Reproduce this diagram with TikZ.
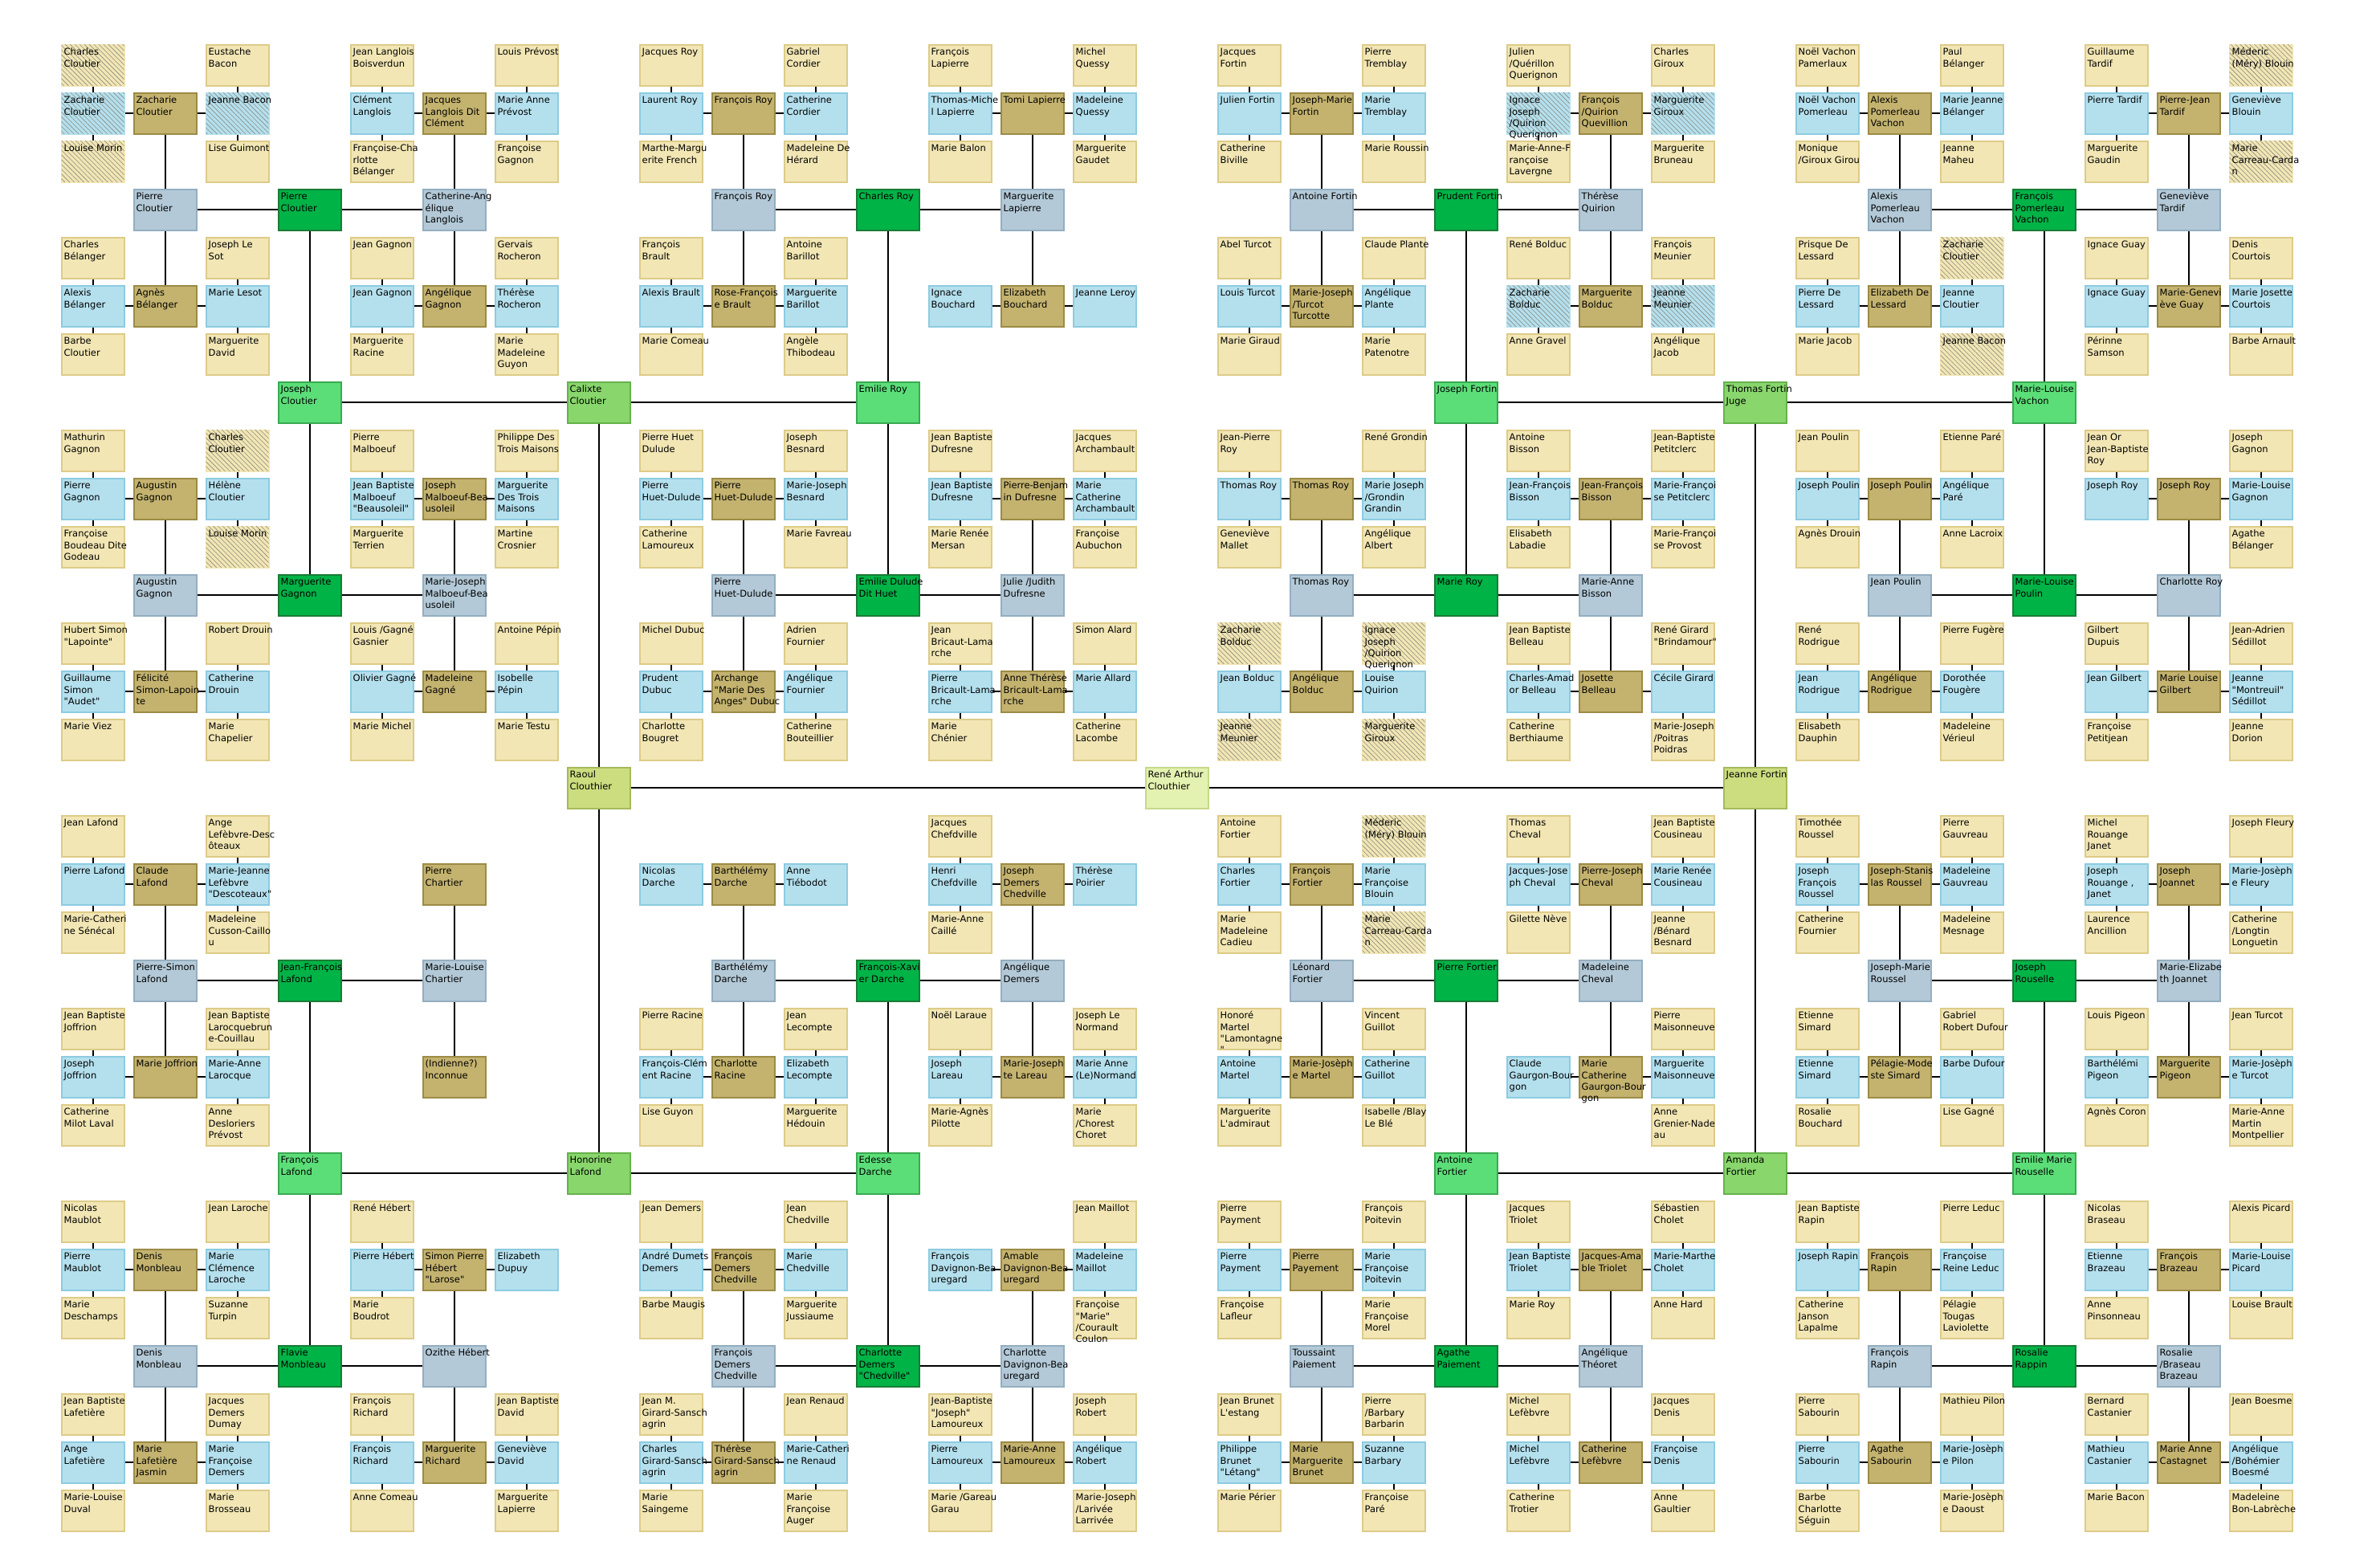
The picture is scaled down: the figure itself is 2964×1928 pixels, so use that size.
\documentclass[tikz,border=0pt]{standalone}
\usepackage{fontspec}
\newfontfamily\nf{DejaVu Sans}
\usetikzlibrary{patterns.meta}
\definecolor{cY}{HTML}{F2E6B4}\definecolor{cYb}{HTML}{DDCB88}
\definecolor{cL}{HTML}{B4E0EE}\definecolor{cLb}{HTML}{8DCBE0}
\definecolor{cT}{HTML}{C4B36F}\definecolor{cTb}{HTML}{9C8B45}
\definecolor{cG}{HTML}{B3C9D7}\definecolor{cGb}{HTML}{94AEC0}
\definecolor{cD}{HTML}{00B347}\definecolor{cDb}{HTML}{1B7B36}
\definecolor{cF3}{HTML}{5BDE78}\definecolor{cF3b}{HTML}{3AAA52}
\definecolor{cF2}{HTML}{88D66C}\definecolor{cF2b}{HTML}{66B24C}
\definecolor{cF1}{HTML}{CCDD7F}\definecolor{cF1b}{HTML}{A6B95A}
\definecolor{cF0}{HTML}{E3F2B1}\definecolor{cF0b}{HTML}{C6D98A}
\definecolor{cHatch}{HTML}{8A8A80}
\newcommand\lns[1]{\begin{tabular}[t]{@{}l@{}}#1\end{tabular}}
\newcommand\anc[6]{%
  \node[#3] (n#1-#2) at ({115.5+90*#1},{81+60*#2}) {};
  \node[txt] (t#1-#2) at ([shift={(-36,-12.1)}]n#1-#2.center) {\lns{#4}};
  \draw[link] (n#1-#2) -- (n#5-#6);}
\tikzset{
  box/.style={rectangle, minimum width=78pt, minimum height=51pt, line width=2pt, inner sep=0pt},
  Y/.style={box, fill=cY, draw=cYb},
  L/.style={box, fill=cL, draw=cLb},
  T/.style={box, fill=cT, draw=cTb},
  G/.style={box, fill=cG, draw=cGb},
  D/.style={box, fill=cD, draw=cDb},
  F3/.style={box, fill=cF3, draw=cF3b},
  F2/.style={box, fill=cF2, draw=cF2b},
  F1/.style={box, fill=cF1, draw=cF1b},
  F0/.style={box, fill=cF0, draw=cF0b},
  hatched/.style={postaction={pattern={Lines[angle=-45,distance=4.2pt,line width=0.6pt]}, pattern color=cHatch}},
  YH/.style={Y, draw=cY, hatched},
  LH/.style={L, draw=cL, hatched},
  txt/.style={anchor=base west, inner sep=0pt, font={\fontsize{11.5}{14.35}\selectfont\nf}},
  link/.style={line width=2pt, draw=black}
}
\begin{document}
\begin{tikzpicture}[x=1pt,y=-1pt]
\fill[white] (0,0) rectangle (2964,1928);
\useasboundingbox (0,0) rectangle (2964,1928);
% root
\node[F0] (n15-15) at ({115.5+90*15},{81+60*15}) {};
\node[txt] (t15-15) at ([shift={(-36,-12.1)}]n15-15.center) {\lns{René Arthur\\Clouthier}};
% generation 1
\anc{7}{15}{F1}{Raoul\\Clouthier}{15}{15}
\anc{23}{15}{F1}{Jeanne Fortin}{15}{15}
% generation 2
\anc{7}{7}{F2}{Calixte\\Cloutier}{7}{15}
\anc{7}{23}{F2}{Honorine\\Lafond}{7}{15}
\anc{23}{7}{F2}{Thomas Fortin\\Juge}{23}{15}
\anc{23}{23}{F2}{Amanda\\Fortier}{23}{15}
% generation 3
\anc{3}{7}{F3}{Joseph\\Cloutier}{7}{7}
\anc{11}{7}{F3}{Emilie Roy}{7}{7}
\anc{3}{23}{F3}{François\\Lafond}{7}{23}
\anc{11}{23}{F3}{Edesse\\Darche}{7}{23}
\anc{19}{7}{F3}{Joseph Fortin}{23}{7}
\anc{27}{7}{F3}{Marie-Louise\\Vachon}{23}{7}
\anc{19}{23}{F3}{Antoine\\Fortier}{23}{23}
\anc{27}{23}{F3}{Emilie Marie\\Rouselle}{23}{23}
% generation 4
\anc{3}{3}{D}{Pierre\\Cloutier}{3}{7}
\anc{3}{11}{D}{Marguerite\\Gagnon}{3}{7}
\anc{11}{3}{D}{Charles Roy}{11}{7}
\anc{11}{11}{D}{Emilie Dulude\\Dit Huet}{11}{7}
\anc{3}{19}{D}{Jean-François\\Lafond}{3}{23}
\anc{3}{27}{D}{Flavie\\Monbleau}{3}{23}
\anc{11}{19}{D}{François-Xavi\\er Darche}{11}{23}
\anc{11}{27}{D}{Charlotte\\Demers\\"Chedville"}{11}{23}
\anc{19}{3}{D}{Prudent Fortin}{19}{7}
\anc{19}{11}{D}{Marie Roy}{19}{7}
\anc{27}{3}{D}{François\\Pomerleau\\Vachon}{27}{7}
\anc{27}{11}{D}{Marie-Louise\\Poulin}{27}{7}
\anc{19}{19}{D}{Pierre Fortier}{19}{23}
\anc{19}{27}{D}{Agathe\\Paiement}{19}{23}
\anc{27}{19}{D}{Joseph\\Rouselle}{27}{23}
\anc{27}{27}{D}{Rosalie\\Rappin}{27}{23}
% generation 5
\anc{1}{3}{G}{Pierre\\Cloutier}{3}{3}
\anc{5}{3}{G}{Catherine-Ang\\élique\\Langlois}{3}{3}
\anc{1}{11}{G}{Augustin\\Gagnon}{3}{11}
\anc{5}{11}{G}{Marie-Joseph\\Malboeuf-Bea\\usoleil}{3}{11}
\anc{9}{3}{G}{François Roy}{11}{3}
\anc{13}{3}{G}{Marguerite\\Lapierre}{11}{3}
\anc{9}{11}{G}{Pierre\\Huet-Dulude}{11}{11}
\anc{13}{11}{G}{Julie /Judith\\Dufresne}{11}{11}
\anc{17}{3}{G}{Antoine Fortin}{19}{3}
\anc{21}{3}{G}{Thérèse\\Quirion}{19}{3}
\anc{17}{11}{G}{Thomas Roy}{19}{11}
\anc{21}{11}{G}{Marie-Anne\\Bisson}{19}{11}
\anc{25}{3}{G}{Alexis\\Pomerleau\\Vachon}{27}{3}
\anc{29}{3}{G}{Geneviève\\Tardif}{27}{3}
\anc{25}{11}{G}{Jean Poulin}{27}{11}
\anc{29}{11}{G}{Charlotte Roy}{27}{11}
\anc{1}{19}{G}{Pierre-Simon\\Lafond}{3}{19}
\anc{5}{19}{G}{Marie-Louise\\Chartier}{3}{19}
\anc{1}{27}{G}{Denis\\Monbleau}{3}{27}
\anc{5}{27}{G}{Ozithe Hébert}{3}{27}
\anc{9}{19}{G}{Barthélémy\\Darche}{11}{19}
\anc{13}{19}{G}{Angélique\\Demers}{11}{19}
\anc{9}{27}{G}{François\\Demers\\Chedville}{11}{27}
\anc{13}{27}{G}{Charlotte\\Davignon-Bea\\uregard}{11}{27}
\anc{17}{19}{G}{Léonard\\Fortier}{19}{19}
\anc{21}{19}{G}{Madeleine\\Cheval}{19}{19}
\anc{17}{27}{G}{Toussaint\\Paiement}{19}{27}
\anc{21}{27}{G}{Angélique\\Théoret}{19}{27}
\anc{25}{19}{G}{Joseph-Marie\\Roussel}{27}{19}
\anc{29}{19}{G}{Marie-Elizabe\\th Joannet}{27}{19}
\anc{25}{27}{G}{François\\Rapin}{27}{27}
\anc{29}{27}{G}{Rosalie\\/Braseau\\Brazeau}{27}{27}
% generation 6
\anc{1}{1}{T}{Zacharie\\Cloutier}{1}{3}
\anc{1}{5}{T}{Agnès\\Bélanger}{1}{3}
\anc{5}{1}{T}{Jacques\\Langlois Dit\\Clément}{5}{3}
\anc{5}{5}{T}{Angélique\\Gagnon}{5}{3}
\anc{1}{9}{T}{Augustin\\Gagnon}{1}{11}
\anc{1}{13}{T}{Félicité\\Simon-Lapoin\\te}{1}{11}
\anc{5}{9}{T}{Joseph\\Malboeuf-Bea\\usoleil}{5}{11}
\anc{5}{13}{T}{Madeleine\\Gagné}{5}{11}
\anc{9}{1}{T}{François Roy}{9}{3}
\anc{9}{5}{T}{Rose-François\\e Brault}{9}{3}
\anc{13}{1}{T}{Tomi Lapierre}{13}{3}
\anc{13}{5}{T}{Elizabeth\\Bouchard}{13}{3}
\anc{9}{9}{T}{Pierre\\Huet-Dulude}{9}{11}
\anc{9}{13}{T}{Archange\\"Marie Des\\Anges" Dubuc}{9}{11}
\anc{13}{9}{T}{Pierre-Benjam\\in Dufresne}{13}{11}
\anc{13}{13}{T}{Anne Thérèse\\Bricault-Lama\\rche}{13}{11}
\anc{17}{1}{T}{Joseph-Marie\\Fortin}{17}{3}
\anc{17}{5}{T}{Marie-Joseph\\/Turcot\\Turcotte}{17}{3}
\anc{21}{1}{T}{François\\/Quirion\\Quevillion}{21}{3}
\anc{21}{5}{T}{Marguerite\\Bolduc}{21}{3}
\anc{17}{9}{T}{Thomas Roy}{17}{11}
\anc{17}{13}{T}{Angélique\\Bolduc}{17}{11}
\anc{21}{9}{T}{Jean-François\\Bisson}{21}{11}
\anc{21}{13}{T}{Josette\\Belleau}{21}{11}
\anc{25}{1}{T}{Alexis\\Pomerleau\\Vachon}{25}{3}
\anc{25}{5}{T}{Elizabeth De\\Lessard}{25}{3}
\anc{29}{1}{T}{Pierre-Jean\\Tardif}{29}{3}
\anc{29}{5}{T}{Marie-Genevi\\ève Guay}{29}{3}
\anc{25}{9}{T}{Joseph Poulin}{25}{11}
\anc{25}{13}{T}{Angélique\\Rodrigue}{25}{11}
\anc{29}{9}{T}{Joseph Roy}{29}{11}
\anc{29}{13}{T}{Marie Louise\\Gilbert}{29}{11}
\anc{1}{17}{T}{Claude\\Lafond}{1}{19}
\anc{1}{21}{T}{Marie Joffrion}{1}{19}
\anc{5}{17}{T}{Pierre\\Chartier}{5}{19}
\anc{5}{21}{T}{(Indienne?)\\Inconnue}{5}{19}
\anc{1}{25}{T}{Denis\\Monbleau}{1}{27}
\anc{1}{29}{T}{Marie\\Lafetière\\Jasmin}{1}{27}
\anc{5}{25}{T}{Simon Pierre\\Hébert\\"Larose"}{5}{27}
\anc{5}{29}{T}{Marguerite\\Richard}{5}{27}
\anc{9}{17}{T}{Barthélémy\\Darche}{9}{19}
\anc{9}{21}{T}{Charlotte\\Racine}{9}{19}
\anc{13}{17}{T}{Joseph\\Demers\\Chedville}{13}{19}
\anc{13}{21}{T}{Marie-Joseph\\te Lareau}{13}{19}
\anc{9}{25}{T}{François\\Demers\\Chedville}{9}{27}
\anc{9}{29}{T}{Thérèse\\Girard-Sansch\\agrin}{9}{27}
\anc{13}{25}{T}{Amable\\Davignon-Bea\\uregard}{13}{27}
\anc{13}{29}{T}{Marie-Anne\\Lamoureux}{13}{27}
\anc{17}{17}{T}{François\\Fortier}{17}{19}
\anc{17}{21}{T}{Marie-Josèph\\e Martel}{17}{19}
\anc{21}{17}{T}{Pierre-Joseph\\Cheval}{21}{19}
\anc{21}{21}{T}{Marie\\Catherine\\Gaurgon-Bour\\gon}{21}{19}
\anc{17}{25}{T}{Pierre\\Payement}{17}{27}
\anc{17}{29}{T}{Marie\\Marguerite\\Brunet}{17}{27}
\anc{21}{25}{T}{Jacques-Ama\\ble Triolet}{21}{27}
\anc{21}{29}{T}{Catherine\\Lefèbvre}{21}{27}
\anc{25}{17}{T}{Joseph-Stanis\\las Roussel}{25}{19}
\anc{25}{21}{T}{Pélagie-Mode\\ste Simard}{25}{19}
\anc{29}{17}{T}{Joseph\\Joannet}{29}{19}
\anc{29}{21}{T}{Marguerite\\Pigeon}{29}{19}
\anc{25}{25}{T}{François\\Rapin}{25}{27}
\anc{25}{29}{T}{Agathe\\Sabourin}{25}{27}
\anc{29}{25}{T}{François\\Brazeau}{29}{27}
\anc{29}{29}{T}{Marie Anne\\Castagnet}{29}{27}
% generation 7
\anc{0}{1}{LH}{Zacharie\\Cloutier}{1}{1}
\anc{2}{1}{LH}{Jeanne Bacon}{1}{1}
\anc{0}{5}{L}{Alexis\\Bélanger}{1}{5}
\anc{2}{5}{L}{Marie Lesot}{1}{5}
\anc{4}{1}{L}{Clément\\Langlois}{5}{1}
\anc{6}{1}{L}{Marie Anne\\Prévost}{5}{1}
\anc{4}{5}{L}{Jean Gagnon}{5}{5}
\anc{6}{5}{L}{Thérèse\\Rocheron}{5}{5}
\anc{0}{9}{L}{Pierre\\Gagnon}{1}{9}
\anc{2}{9}{L}{Hélène\\Cloutier}{1}{9}
\anc{0}{13}{L}{Guillaume\\Simon\\"Audet"}{1}{13}
\anc{2}{13}{L}{Catherine\\Drouin}{1}{13}
\anc{4}{9}{L}{Jean Baptiste\\Malboeuf\\"Beausoleil"}{5}{9}
\anc{6}{9}{L}{Marguerite\\Des Trois\\Maisons}{5}{9}
\anc{4}{13}{L}{Olivier Gagné}{5}{13}
\anc{6}{13}{L}{Isobelle\\Pépin}{5}{13}
\anc{8}{1}{L}{Laurent Roy}{9}{1}
\anc{10}{1}{L}{Catherine\\Cordier}{9}{1}
\anc{8}{5}{L}{Alexis Brault}{9}{5}
\anc{10}{5}{L}{Marguerite\\Barillot}{9}{5}
\anc{12}{1}{L}{Thomas-Miche\\l Lapierre}{13}{1}
\anc{14}{1}{L}{Madeleine\\Quessy}{13}{1}
\anc{12}{5}{L}{Ignace\\Bouchard}{13}{5}
\anc{14}{5}{L}{Jeanne Leroy}{13}{5}
\anc{8}{9}{L}{Pierre\\Huet-Dulude}{9}{9}
\anc{10}{9}{L}{Marie-Joseph\\Besnard}{9}{9}
\anc{8}{13}{L}{Prudent\\Dubuc}{9}{13}
\anc{10}{13}{L}{Angélique\\Fournier}{9}{13}
\anc{12}{9}{L}{Jean Baptiste\\Dufresne}{13}{9}
\anc{14}{9}{L}{Marie\\Catherine\\Archambault}{13}{9}
\anc{12}{13}{L}{Pierre\\Bricault-Lama\\rche}{13}{13}
\anc{14}{13}{L}{Marie Allard}{13}{13}
\anc{16}{1}{L}{Julien Fortin}{17}{1}
\anc{18}{1}{L}{Marie\\Tremblay}{17}{1}
\anc{16}{5}{L}{Louis Turcot}{17}{5}
\anc{18}{5}{L}{Angélique\\Plante}{17}{5}
\anc{20}{1}{LH}{Ignace\\Joseph\\/Quirion\\Querignon}{21}{1}
\anc{22}{1}{LH}{Marguerite\\Giroux}{21}{1}
\anc{20}{5}{LH}{Zacharie\\Bolduc}{21}{5}
\anc{22}{5}{LH}{Jeanne\\Meunier}{21}{5}
\anc{16}{9}{L}{Thomas Roy}{17}{9}
\anc{18}{9}{L}{Marie Joseph\\/Grondin\\Grandin}{17}{9}
\anc{16}{13}{L}{Jean Bolduc}{17}{13}
\anc{18}{13}{L}{Louise\\Quirion}{17}{13}
\anc{20}{9}{L}{Jean-François\\Bisson}{21}{9}
\anc{22}{9}{L}{Marie-Françoi\\se Petitclerc}{21}{9}
\anc{20}{13}{L}{Charles-Amad\\or Belleau}{21}{13}
\anc{22}{13}{L}{Cécile Girard}{21}{13}
\anc{24}{1}{L}{Noël Vachon\\Pomerleau}{25}{1}
\anc{26}{1}{L}{Marie Jeanne\\Bélanger}{25}{1}
\anc{24}{5}{L}{Pierre De\\Lessard}{25}{5}
\anc{26}{5}{L}{Jeanne\\Cloutier}{25}{5}
\anc{28}{1}{L}{Pierre Tardif}{29}{1}
\anc{30}{1}{L}{Geneviève\\Blouin}{29}{1}
\anc{28}{5}{L}{Ignace Guay}{29}{5}
\anc{30}{5}{L}{Marie Josette\\Courtois}{29}{5}
\anc{24}{9}{L}{Joseph Poulin}{25}{9}
\anc{26}{9}{L}{Angélique\\Paré}{25}{9}
\anc{24}{13}{L}{Jean\\Rodrigue}{25}{13}
\anc{26}{13}{L}{Dorothée\\Fougère}{25}{13}
\anc{28}{9}{L}{Joseph Roy}{29}{9}
\anc{30}{9}{L}{Marie-Louise\\Gagnon}{29}{9}
\anc{28}{13}{L}{Jean Gilbert}{29}{13}
\anc{30}{13}{L}{Jeanne\\"Montreuil"\\Sédillot}{29}{13}
\anc{0}{17}{L}{Pierre Lafond}{1}{17}
\anc{2}{17}{L}{Marie-Jeanne\\Lefèbvre\\"Descoteaux"}{1}{17}
\anc{0}{21}{L}{Joseph\\Joffrion}{1}{21}
\anc{2}{21}{L}{Marie-Anne\\Larocque}{1}{21}
\anc{0}{25}{L}{Pierre\\Maublot}{1}{25}
\anc{2}{25}{L}{Marie\\Clémence\\Laroche}{1}{25}
\anc{0}{29}{L}{Ange\\Lafetière}{1}{29}
\anc{2}{29}{L}{Marie\\Françoise\\Demers}{1}{29}
\anc{4}{25}{L}{Pierre Hébert}{5}{25}
\anc{6}{25}{L}{Elizabeth\\Dupuy}{5}{25}
\anc{4}{29}{L}{François\\Richard}{5}{29}
\anc{6}{29}{L}{Geneviève\\David}{5}{29}
\anc{8}{17}{L}{Nicolas\\Darche}{9}{17}
\anc{10}{17}{L}{Anne\\Tiébodot}{9}{17}
\anc{8}{21}{L}{François-Clém\\ent Racine}{9}{21}
\anc{10}{21}{L}{Elizabeth\\Lecompte}{9}{21}
\anc{12}{17}{L}{Henri\\Chefdville}{13}{17}
\anc{14}{17}{L}{Thérèse\\Poirier}{13}{17}
\anc{12}{21}{L}{Joseph\\Lareau}{13}{21}
\anc{14}{21}{L}{Marie Anne\\(Le)Normand}{13}{21}
\anc{8}{25}{L}{André Dumets\\Demers}{9}{25}
\anc{10}{25}{L}{Marie\\Chedville}{9}{25}
\anc{8}{29}{L}{Charles\\Girard-Sansch\\agrin}{9}{29}
\anc{10}{29}{L}{Marie-Catheri\\ne Renaud}{9}{29}
\anc{12}{25}{L}{François\\Davignon-Bea\\uregard}{13}{25}
\anc{14}{25}{L}{Madeleine\\Maillot}{13}{25}
\anc{12}{29}{L}{Pierre\\Lamoureux}{13}{29}
\anc{14}{29}{L}{Angélique\\Robert}{13}{29}
\anc{16}{17}{L}{Charles\\Fortier}{17}{17}
\anc{18}{17}{L}{Marie\\Françoise\\Blouin}{17}{17}
\anc{16}{21}{L}{Antoine\\Martel}{17}{21}
\anc{18}{21}{L}{Catherine\\Guillot}{17}{21}
\anc{20}{17}{L}{Jacques-Jose\\ph Cheval}{21}{17}
\anc{22}{17}{L}{Marie Renée\\Cousineau}{21}{17}
\anc{20}{21}{L}{Claude\\Gaurgon-Bour\\gon}{21}{21}
\anc{22}{21}{L}{Marguerite\\Maisonneuve}{21}{21}
\anc{16}{25}{L}{Pierre\\Payment}{17}{25}
\anc{18}{25}{L}{Marie\\Françoise\\Poitevin}{17}{25}
\anc{16}{29}{L}{Philippe\\Brunet\\"Létang"}{17}{29}
\anc{18}{29}{L}{Suzanne\\Barbary}{17}{29}
\anc{20}{25}{L}{Jean Baptiste\\Triolet}{21}{25}
\anc{22}{25}{L}{Marie-Marthe\\Cholet}{21}{25}
\anc{20}{29}{L}{Michel\\Lefèbvre}{21}{29}
\anc{22}{29}{L}{Françoise\\Denis}{21}{29}
\anc{24}{17}{L}{Joseph\\François\\Roussel}{25}{17}
\anc{26}{17}{L}{Madeleine\\Gauvreau}{25}{17}
\anc{24}{21}{L}{Etienne\\Simard}{25}{21}
\anc{26}{21}{L}{Barbe Dufour}{25}{21}
\anc{28}{17}{L}{Joseph\\Rouange ,\\Janet}{29}{17}
\anc{30}{17}{L}{Marie-Josèph\\e Fleury}{29}{17}
\anc{28}{21}{L}{Barthélémi\\Pigeon}{29}{21}
\anc{30}{21}{L}{Marie-Josèph\\e Turcot}{29}{21}
\anc{24}{25}{L}{Joseph Rapin}{25}{25}
\anc{26}{25}{L}{Françoise\\Reine Leduc}{25}{25}
\anc{24}{29}{L}{Pierre\\Sabourin}{25}{29}
\anc{26}{29}{L}{Marie-Josèph\\e Pilon}{25}{29}
\anc{28}{25}{L}{Etienne\\Brazeau}{29}{25}
\anc{30}{25}{L}{Marie-Louise\\Picard}{29}{25}
\anc{28}{29}{L}{Mathieu\\Castanier}{29}{29}
\anc{30}{29}{L}{Angélique\\/Bohémier\\Boesmé}{29}{29}
% generation 8
\anc{0}{0}{YH}{Charles\\Cloutier}{0}{1}
\anc{0}{2}{YH}{Louise Morin}{0}{1}
\anc{2}{0}{Y}{Eustache\\Bacon}{2}{1}
\anc{2}{2}{Y}{Lise Guimont}{2}{1}
\anc{0}{4}{Y}{Charles\\Bélanger}{0}{5}
\anc{0}{6}{Y}{Barbe\\Cloutier}{0}{5}
\anc{2}{4}{Y}{Joseph Le\\Sot}{2}{5}
\anc{2}{6}{Y}{Marguerite\\David}{2}{5}
\anc{4}{0}{Y}{Jean Langlois\\Boisverdun}{4}{1}
\anc{4}{2}{Y}{Françoise-Cha\\rlotte\\Bélanger}{4}{1}
\anc{6}{0}{Y}{Louis Prévost}{6}{1}
\anc{6}{2}{Y}{Françoise\\Gagnon}{6}{1}
\anc{4}{4}{Y}{Jean Gagnon}{4}{5}
\anc{4}{6}{Y}{Marguerite\\Racine}{4}{5}
\anc{6}{4}{Y}{Gervais\\Rocheron}{6}{5}
\anc{6}{6}{Y}{Marie\\Madeleine\\Guyon}{6}{5}
\anc{0}{8}{Y}{Mathurin\\Gagnon}{0}{9}
\anc{0}{10}{Y}{Françoise\\Boudeau Dite\\Godeau}{0}{9}
\anc{2}{8}{YH}{Charles\\Cloutier}{2}{9}
\anc{2}{10}{YH}{Louise Morin}{2}{9}
\anc{0}{12}{Y}{Hubert Simon\\"Lapointe"}{0}{13}
\anc{0}{14}{Y}{Marie Viez}{0}{13}
\anc{2}{12}{Y}{Robert Drouin}{2}{13}
\anc{2}{14}{Y}{Marie\\Chapelier}{2}{13}
\anc{4}{8}{Y}{Pierre\\Malboeuf}{4}{9}
\anc{4}{10}{Y}{Marguerite\\Terrien}{4}{9}
\anc{6}{8}{Y}{Philippe Des\\Trois Maisons}{6}{9}
\anc{6}{10}{Y}{Martine\\Crosnier}{6}{9}
\anc{4}{12}{Y}{Louis /Gagné\\Gasnier}{4}{13}
\anc{4}{14}{Y}{Marie Michel}{4}{13}
\anc{6}{12}{Y}{Antoine Pépin}{6}{13}
\anc{6}{14}{Y}{Marie Testu}{6}{13}
\anc{8}{0}{Y}{Jacques Roy}{8}{1}
\anc{8}{2}{Y}{Marthe-Margu\\erite French}{8}{1}
\anc{10}{0}{Y}{Gabriel\\Cordier}{10}{1}
\anc{10}{2}{Y}{Madeleine De\\Hérard}{10}{1}
\anc{8}{4}{Y}{François\\Brault}{8}{5}
\anc{8}{6}{Y}{Marie Comeau}{8}{5}
\anc{10}{4}{Y}{Antoine\\Barillot}{10}{5}
\anc{10}{6}{Y}{Angèle\\Thibodeau}{10}{5}
\anc{12}{0}{Y}{François\\Lapierre}{12}{1}
\anc{12}{2}{Y}{Marie Balon}{12}{1}
\anc{14}{0}{Y}{Michel\\Quessy}{14}{1}
\anc{14}{2}{Y}{Marguerite\\Gaudet}{14}{1}
\anc{8}{8}{Y}{Pierre Huet\\Dulude}{8}{9}
\anc{8}{10}{Y}{Catherine\\Lamoureux}{8}{9}
\anc{10}{8}{Y}{Joseph\\Besnard}{10}{9}
\anc{10}{10}{Y}{Marie Favreau}{10}{9}
\anc{8}{12}{Y}{Michel Dubuc}{8}{13}
\anc{8}{14}{Y}{Charlotte\\Bougret}{8}{13}
\anc{10}{12}{Y}{Adrien\\Fournier}{10}{13}
\anc{10}{14}{Y}{Catherine\\Bouteillier}{10}{13}
\anc{12}{8}{Y}{Jean Baptiste\\Dufresne}{12}{9}
\anc{12}{10}{Y}{Marie Renée\\Mersan}{12}{9}
\anc{14}{8}{Y}{Jacques\\Archambault}{14}{9}
\anc{14}{10}{Y}{Françoise\\Aubuchon}{14}{9}
\anc{12}{12}{Y}{Jean\\Bricaut-Lama\\rche}{12}{13}
\anc{12}{14}{Y}{Marie\\Chénier}{12}{13}
\anc{14}{12}{Y}{Simon Alard}{14}{13}
\anc{14}{14}{Y}{Catherine\\Lacombe}{14}{13}
\anc{16}{0}{Y}{Jacques\\Fortin}{16}{1}
\anc{16}{2}{Y}{Catherine\\Biville}{16}{1}
\anc{18}{0}{Y}{Pierre\\Tremblay}{18}{1}
\anc{18}{2}{Y}{Marie Roussin}{18}{1}
\anc{16}{4}{Y}{Abel Turcot}{16}{5}
\anc{16}{6}{Y}{Marie Giraud}{16}{5}
\anc{18}{4}{Y}{Claude Plante}{18}{5}
\anc{18}{6}{Y}{Marie\\Patenotre}{18}{5}
\anc{20}{0}{Y}{Julien\\/Quérillon\\Querignon}{20}{1}
\anc{20}{2}{Y}{Marie-Anne-F\\rançoise\\Lavergne}{20}{1}
\anc{22}{0}{Y}{Charles\\Giroux}{22}{1}
\anc{22}{2}{Y}{Marguerite\\Bruneau}{22}{1}
\anc{20}{4}{Y}{René Bolduc}{20}{5}
\anc{20}{6}{Y}{Anne Gravel}{20}{5}
\anc{22}{4}{Y}{François\\Meunier}{22}{5}
\anc{22}{6}{Y}{Angélique\\Jacob}{22}{5}
\anc{16}{8}{Y}{Jean-Pierre\\Roy}{16}{9}
\anc{16}{10}{Y}{Geneviève\\Mallet}{16}{9}
\anc{18}{8}{Y}{René Grondin}{18}{9}
\anc{18}{10}{Y}{Angélique\\Albert}{18}{9}
\anc{16}{12}{YH}{Zacharie\\Bolduc}{16}{13}
\anc{16}{14}{YH}{Jeanne\\Meunier}{16}{13}
\anc{18}{12}{YH}{Ignace\\Joseph\\/Quirion\\Querignon}{18}{13}
\anc{18}{14}{YH}{Marguerite\\Giroux}{18}{13}
\anc{20}{8}{Y}{Antoine\\Bisson}{20}{9}
\anc{20}{10}{Y}{Elisabeth\\Labadie}{20}{9}
\anc{22}{8}{Y}{Jean-Baptiste\\Petitclerc}{22}{9}
\anc{22}{10}{Y}{Marie-Françoi\\se Provost}{22}{9}
\anc{20}{12}{Y}{Jean Baptiste\\Belleau}{20}{13}
\anc{20}{14}{Y}{Catherine\\Berthiaume}{20}{13}
\anc{22}{12}{Y}{René Girard\\"Brindamour"}{22}{13}
\anc{22}{14}{Y}{Marie-Joseph\\/Poitras\\Poidras}{22}{13}
\anc{24}{0}{Y}{Noël Vachon\\Pamerlaux}{24}{1}
\anc{24}{2}{Y}{Monique\\/Giroux Girou}{24}{1}
\anc{26}{0}{Y}{Paul\\Bélanger}{26}{1}
\anc{26}{2}{Y}{Jeanne\\Maheu}{26}{1}
\anc{24}{4}{Y}{Prisque De\\Lessard}{24}{5}
\anc{24}{6}{Y}{Marie Jacob}{24}{5}
\anc{26}{4}{YH}{Zacharie\\Cloutier}{26}{5}
\anc{26}{6}{YH}{Jeanne Bacon}{26}{5}
\anc{28}{0}{Y}{Guillaume\\Tardif}{28}{1}
\anc{28}{2}{Y}{Marguerite\\Gaudin}{28}{1}
\anc{30}{0}{YH}{Méderic\\(Méry) Blouin}{30}{1}
\anc{30}{2}{YH}{Marie\\Carreau-Carda\\n}{30}{1}
\anc{28}{4}{Y}{Ignace Guay}{28}{5}
\anc{28}{6}{Y}{Périnne\\Samson}{28}{5}
\anc{30}{4}{Y}{Denis\\Courtois}{30}{5}
\anc{30}{6}{Y}{Barbe Arnault}{30}{5}
\anc{24}{8}{Y}{Jean Poulin}{24}{9}
\anc{24}{10}{Y}{Agnès Drouin}{24}{9}
\anc{26}{8}{Y}{Etienne Paré}{26}{9}
\anc{26}{10}{Y}{Anne Lacroix}{26}{9}
\anc{24}{12}{Y}{René\\Rodrigue}{24}{13}
\anc{24}{14}{Y}{Elisabeth\\Dauphin}{24}{13}
\anc{26}{12}{Y}{Pierre Fugère}{26}{13}
\anc{26}{14}{Y}{Madeleine\\Vérieul}{26}{13}
\anc{28}{8}{Y}{Jean Or\\Jean-Baptiste\\Roy}{28}{9}
\anc{30}{8}{Y}{Joseph\\Gagnon}{30}{9}
\anc{30}{10}{Y}{Agathe\\Bélanger}{30}{9}
\anc{28}{12}{Y}{Gilbert\\Dupuis}{28}{13}
\anc{28}{14}{Y}{Françoise\\Petitjean}{28}{13}
\anc{30}{12}{Y}{Jean-Adrien\\Sédillot}{30}{13}
\anc{30}{14}{Y}{Jeanne\\Dorion}{30}{13}
\anc{0}{16}{Y}{Jean Lafond}{0}{17}
\anc{0}{18}{Y}{Marie-Catheri\\ne Sénécal}{0}{17}
\anc{2}{16}{Y}{Ange\\Lefèbvre-Desc\\ôteaux}{2}{17}
\anc{2}{18}{Y}{Madeleine\\Cusson-Caillo\\u}{2}{17}
\anc{0}{20}{Y}{Jean Baptiste\\Joffrion}{0}{21}
\anc{0}{22}{Y}{Catherine\\Milot Laval}{0}{21}
\anc{2}{20}{Y}{Jean Baptiste\\Larocquebrun\\e-Couillau}{2}{21}
\anc{2}{22}{Y}{Anne\\Desloriers\\Prévost}{2}{21}
\anc{0}{24}{Y}{Nicolas\\Maublot}{0}{25}
\anc{0}{26}{Y}{Marie\\Deschamps}{0}{25}
\anc{2}{24}{Y}{Jean Laroche}{2}{25}
\anc{2}{26}{Y}{Suzanne\\Turpin}{2}{25}
\anc{0}{28}{Y}{Jean Baptiste\\Lafetière}{0}{29}
\anc{0}{30}{Y}{Marie-Louise\\Duval}{0}{29}
\anc{2}{28}{Y}{Jacques\\Demers\\Dumay}{2}{29}
\anc{2}{30}{Y}{Marie\\Brosseau}{2}{29}
\anc{4}{24}{Y}{René Hébert}{4}{25}
\anc{4}{26}{Y}{Marie\\Boudrot}{4}{25}
\anc{4}{28}{Y}{François\\Richard}{4}{29}
\anc{4}{30}{Y}{Anne Comeau}{4}{29}
\anc{6}{28}{Y}{Jean Baptiste\\David}{6}{29}
\anc{6}{30}{Y}{Marguerite\\Lapierre}{6}{29}
\anc{12}{16}{Y}{Jacques\\Chefdville}{12}{17}
\anc{12}{18}{Y}{Marie-Anne\\Caillé}{12}{17}
\anc{8}{20}{Y}{Pierre Racine}{8}{21}
\anc{8}{22}{Y}{Lise Guyon}{8}{21}
\anc{10}{20}{Y}{Jean\\Lecompte}{10}{21}
\anc{10}{22}{Y}{Marguerite\\Hédouin}{10}{21}
\anc{12}{20}{Y}{Noël Laraue}{12}{21}
\anc{12}{22}{Y}{Marie-Agnès\\Pilotte}{12}{21}
\anc{14}{20}{Y}{Joseph Le\\Normand}{14}{21}
\anc{14}{22}{Y}{Marie\\/Chorest\\Choret}{14}{21}
\anc{8}{24}{Y}{Jean Demers}{8}{25}
\anc{8}{26}{Y}{Barbe Maugis}{8}{25}
\anc{10}{24}{Y}{Jean\\Chedville}{10}{25}
\anc{10}{26}{Y}{Marguerite\\Jussiaume}{10}{25}
\anc{8}{28}{Y}{Jean M.\\Girard-Sansch\\agrin}{8}{29}
\anc{8}{30}{Y}{Marie\\Saingeme}{8}{29}
\anc{10}{28}{Y}{Jean Renaud}{10}{29}
\anc{10}{30}{Y}{Marie\\Françoise\\Auger}{10}{29}
\anc{14}{24}{Y}{Jean Maillot}{14}{25}
\anc{14}{26}{Y}{Françoise\\"Marie"\\/Courault\\Coulon}{14}{25}
\anc{12}{28}{Y}{Jean-Baptiste\\"Joseph"\\Lamoureux}{12}{29}
\anc{12}{30}{Y}{Marie /Gareau\\Garau}{12}{29}
\anc{14}{28}{Y}{Joseph\\Robert}{14}{29}
\anc{14}{30}{Y}{Marie-Joseph\\/Larivée\\Larrivée}{14}{29}
\anc{16}{16}{Y}{Antoine\\Fortier}{16}{17}
\anc{16}{18}{Y}{Marie\\Madeleine\\Cadieu}{16}{17}
\anc{18}{16}{YH}{Méderic\\(Méry) Blouin}{18}{17}
\anc{18}{18}{YH}{Marie\\Carreau-Carda\\n}{18}{17}
\anc{20}{16}{Y}{Thomas\\Cheval}{20}{17}
\anc{20}{18}{Y}{Gilette Nève}{20}{17}
\anc{22}{16}{Y}{Jean Baptiste\\Cousineau}{22}{17}
\anc{22}{18}{Y}{Jeanne\\/Bénard\\Besnard}{22}{17}
\anc{16}{20}{Y}{Honoré\\Martel\\"Lamontagne\\"}{16}{21}
\anc{16}{22}{Y}{Marguerite\\L'admiraut}{16}{21}
\anc{18}{20}{Y}{Vincent\\Guillot}{18}{21}
\anc{18}{22}{Y}{Isabelle /Blay\\Le Blé}{18}{21}
\anc{22}{20}{Y}{Pierre\\Maisonneuve}{22}{21}
\anc{22}{22}{Y}{Anne\\Grenier-Nade\\au}{22}{21}
\anc{16}{24}{Y}{Pierre\\Payment}{16}{25}
\anc{16}{26}{Y}{Françoise\\Lafleur}{16}{25}
\anc{18}{24}{Y}{François\\Poitevin}{18}{25}
\anc{18}{26}{Y}{Marie\\Françoise\\Morel}{18}{25}
\anc{16}{28}{Y}{Jean Brunet\\L'estang}{16}{29}
\anc{16}{30}{Y}{Marie Périer}{16}{29}
\anc{18}{28}{Y}{Pierre\\/Barbary\\Barbarin}{18}{29}
\anc{18}{30}{Y}{Françoise\\Paré}{18}{29}
\anc{20}{24}{Y}{Jacques\\Triolet}{20}{25}
\anc{20}{26}{Y}{Marie Roy}{20}{25}
\anc{22}{24}{Y}{Sébastien\\Cholet}{22}{25}
\anc{22}{26}{Y}{Anne Hard}{22}{25}
\anc{20}{28}{Y}{Michel\\Lefèbvre}{20}{29}
\anc{20}{30}{Y}{Catherine\\Trotier}{20}{29}
\anc{22}{28}{Y}{Jacques\\Denis}{22}{29}
\anc{22}{30}{Y}{Anne\\Gaultier}{22}{29}
\anc{24}{16}{Y}{Timothée\\Roussel}{24}{17}
\anc{24}{18}{Y}{Catherine\\Fournier}{24}{17}
\anc{26}{16}{Y}{Pierre\\Gauvreau}{26}{17}
\anc{26}{18}{Y}{Madeleine\\Mesnage}{26}{17}
\anc{28}{16}{Y}{Michel\\Rouange\\Janet}{28}{17}
\anc{28}{18}{Y}{Laurence\\Ancillion}{28}{17}
\anc{30}{16}{Y}{Joseph Fleury}{30}{17}
\anc{30}{18}{Y}{Catherine\\/Longtin\\Longuetin}{30}{17}
\anc{24}{20}{Y}{Etienne\\Simard}{24}{21}
\anc{24}{22}{Y}{Rosalie\\Bouchard}{24}{21}
\anc{26}{20}{Y}{Gabriel\\Robert Dufour}{26}{21}
\anc{26}{22}{Y}{Lise Gagné}{26}{21}
\anc{28}{20}{Y}{Louis Pigeon}{28}{21}
\anc{28}{22}{Y}{Agnès Coron}{28}{21}
\anc{30}{20}{Y}{Jean Turcot}{30}{21}
\anc{30}{22}{Y}{Marie-Anne\\Martin\\Montpellier}{30}{21}
\anc{24}{24}{Y}{Jean Baptiste\\Rapin}{24}{25}
\anc{24}{26}{Y}{Catherine\\Janson\\Lapalme}{24}{25}
\anc{26}{24}{Y}{Pierre Leduc}{26}{25}
\anc{26}{26}{Y}{Pélagie\\Tougas\\Laviolette}{26}{25}
\anc{24}{28}{Y}{Pierre\\Sabourin}{24}{29}
\anc{24}{30}{Y}{Barbe\\Charlotte\\Séguin}{24}{29}
\anc{26}{28}{Y}{Mathieu Pilon}{26}{29}
\anc{26}{30}{Y}{Marie-Josèph\\e Daoust}{26}{29}
\anc{28}{24}{Y}{Nicolas\\Braseau}{28}{25}
\anc{28}{26}{Y}{Anne\\Pinsonneau}{28}{25}
\anc{30}{24}{Y}{Alexis Picard}{30}{25}
\anc{30}{26}{Y}{Louise Brault}{30}{25}
\anc{28}{28}{Y}{Bernard\\Castanier}{28}{29}
\anc{28}{30}{Y}{Marie Bacon}{28}{29}
\anc{30}{28}{Y}{Jean Boesme}{30}{29}
\anc{30}{30}{Y}{Madeleine\\Bon-Labrèche}{30}{29}
\end{tikzpicture}
\end{document}
